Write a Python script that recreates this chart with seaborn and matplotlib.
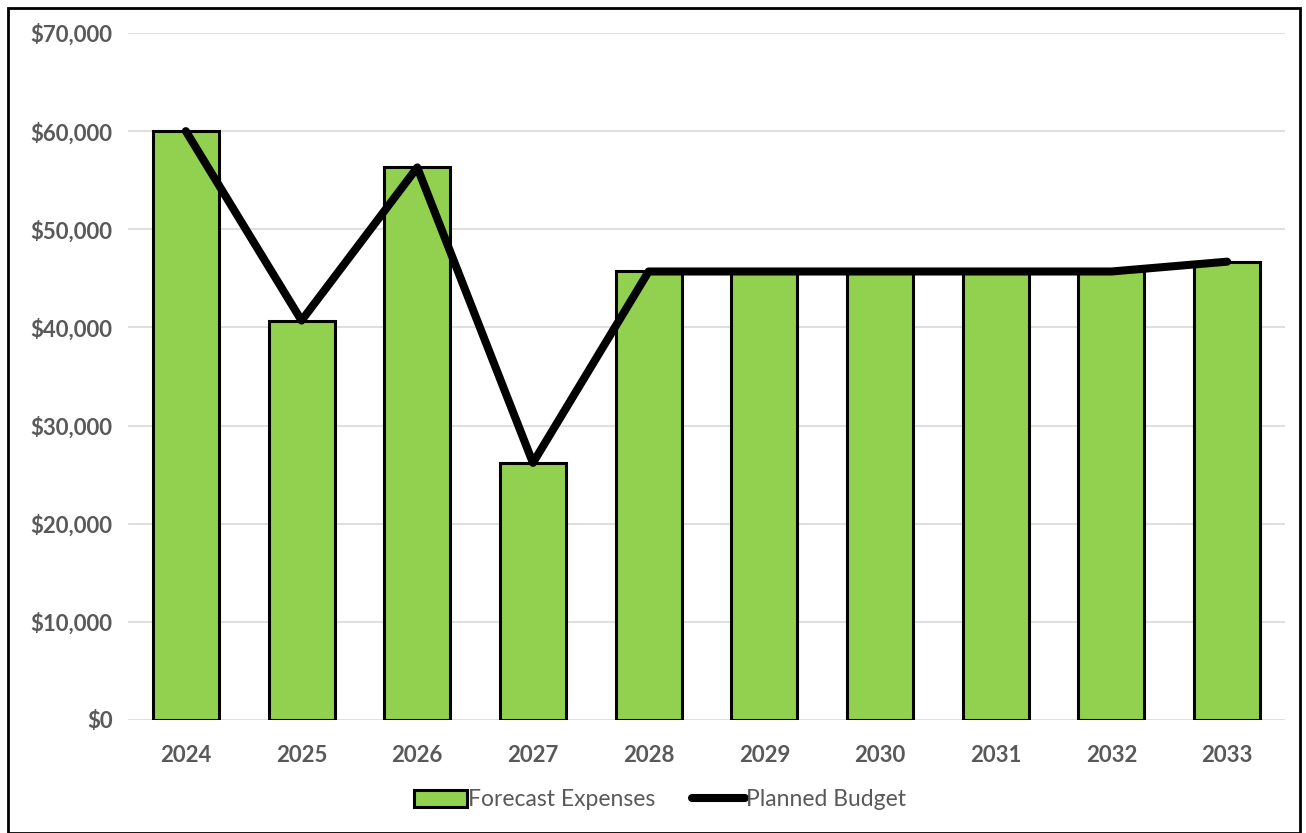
import numpy as np
import pandas as pd
import matplotlib
matplotlib.use("Agg")
import matplotlib.pyplot as plt
import matplotlib.ticker as mticker
from matplotlib.patches import Patch, Rectangle
from matplotlib.lines import Line2D
import seaborn as sns

years = ["2024", "2025", "2026", "2027", "2028", "2029", "2030", "2031", "2032", "2033"]
forecast_expenses = [60000, 40700, 56300, 26200, 45700, 45700, 45700, 45700, 45700, 46700]
planned_budget = [60000, 40700, 56300, 26200, 45700, 45700, 45700, 45700, 45700, 46700]
y_ticks = [0, 10000, 20000, 30000, 40000, 50000, 60000, 70000]

sns.set_theme(style="white")
plt.rcParams["font.family"] = ["Lato", "DejaVu Sans"]

df = pd.DataFrame({"year": years, "expenses": forecast_expenses, "budget": planned_budget})

fig = plt.figure(figsize=(13.06, 8.33), dpi=100)
ax = fig.add_axes([128 / 1306, 1 - 720 / 833, 1157 / 1306, 687 / 833])

sns.barplot(data=df, x="year", y="expenses", color="#92D050", saturation=1,
            edgecolor="black", linewidth=2.2, width=0.57, ax=ax, zorder=2)
sns.lineplot(x=np.arange(len(years)), y=df["budget"], color="black",
             linewidth=5.8, ax=ax, zorder=3)

ax.set_ylim(0, 70000)
ax.set_xlim(-0.5, 9.5)
ax.set_yticks(y_ticks)
ax.yaxis.set_major_formatter(mticker.FuncFormatter(lambda v, p: f"${v:,.0f}"))
ax.grid(axis="y", color="#D9D9D9", linewidth=1.2, zorder=0)
ax.set_axisbelow(True)
for s in ax.spines.values():
    s.set_visible(False)
ax.set_xlabel("")
ax.set_ylabel("")
ax.tick_params(axis="both", length=0, labelsize=16, labelcolor="#595959")
ax.tick_params(axis="y", pad=11)
ax.tick_params(axis="x", pad=18)
for lbl in ax.get_xticklabels() + ax.get_yticklabels():
    lbl.set_fontweight("bold")

handles = [Patch(facecolor="#92D050", edgecolor="black", linewidth=2.2, label="Forecast Expenses"),
           Line2D([0], [0], color="black", linewidth=5.8, label="Planned Budget")]
leg = fig.legend(handles=handles, loc="center", bbox_to_anchor=(660 / 1306, 1 - 800 / 833),
                 ncol=2, frameon=False, fontsize=16.5, handlelength=2.3, handletextpad=0.05,
                 columnspacing=1.6)
for t in leg.get_texts():
    t.set_color("#595959")

fig.patches.append(Rectangle((8 / 1306, 0), 1292 / 1306, 1 - 8 / 833, transform=fig.transFigure,
                             fill=False, edgecolor="black", linewidth=2))

fig.savefig("out.png", dpi=100)
